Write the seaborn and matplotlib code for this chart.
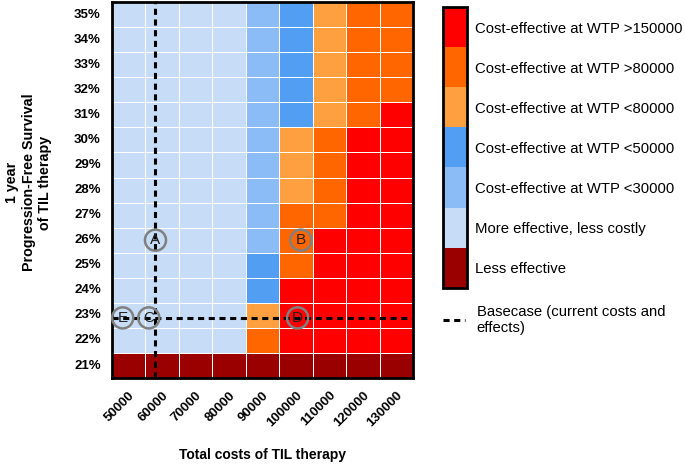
import numpy as np
import pandas as pd
import matplotlib
matplotlib.use("Agg")
import matplotlib.pyplot as plt
import seaborn as sns
from matplotlib.colors import ListedColormap
from matplotlib.lines import Line2D

# ------------------------------------------------------------------------
# Data
# ------------------------------------------------------------------------
costs = [50000, 60000, 70000, 80000, 90000, 100000, 110000, 120000, 130000]
pfs = [35, 34, 33, 32, 31, 30, 29, 28, 27, 26, 25, 24, 23, 22, 21]

# 0 less effective, 1 dominant, 2 <30000, 3 <50000, 4 <80000, 5 >80000, 6 >150000
outcome = [
    [1, 1, 1, 1, 2, 3, 4, 5, 5],
    [1, 1, 1, 1, 2, 3, 4, 5, 5],
    [1, 1, 1, 1, 2, 3, 4, 5, 5],
    [1, 1, 1, 1, 2, 3, 4, 5, 5],
    [1, 1, 1, 1, 2, 3, 4, 5, 6],
    [1, 1, 1, 1, 2, 4, 5, 6, 6],
    [1, 1, 1, 1, 2, 4, 5, 6, 6],
    [1, 1, 1, 1, 2, 4, 5, 6, 6],
    [1, 1, 1, 1, 2, 5, 5, 6, 6],
    [1, 1, 1, 1, 2, 5, 6, 6, 6],
    [1, 1, 1, 1, 3, 5, 6, 6, 6],
    [1, 1, 1, 1, 3, 6, 6, 6, 6],
    [1, 1, 1, 1, 4, 6, 6, 6, 6],
    [1, 1, 1, 1, 5, 6, 6, 6, 6],
    [0, 0, 0, 0, 0, 0, 0, 0, 0],
]

category_labels = [
    "Less effective",
    "More effective, less costly",
    "Cost-effective at WTP <30000",
    "Cost-effective at WTP <50000",
    "Cost-effective at WTP <80000",
    "Cost-effective at WTP >80000",
    "Cost-effective at WTP >150000",
]
category_colors = ["#9b0000", "#c6dcf7", "#8cbcf5", "#529ef2",
                   "#ffa040", "#ff6600", "#ff0000"]

basecase_cost = 58000
basecase_pfs = 22.9

point_names = ["A", "B", "C", "D", "E"]
point_costs = [58000, 101500, 56000, 100500, 48200]
point_pfs = [26, 26, 22.9, 22.9, 22.9]

# ------------------------------------------------------------------------
# Plot
# ------------------------------------------------------------------------
sns.set_style("white")
plt.rcParams["font.family"] = ["Liberation Sans", "DejaVu Sans"]
for key in ["text.color", "axes.labelcolor", "xtick.color", "ytick.color"]:
    plt.rcParams[key] = "black"

df = pd.DataFrame(outcome, index=[f"{p}%" for p in pfs], columns=costs)


def to_x(c):
    return (c - costs[0]) / (costs[1] - costs[0]) + 0.5


def to_y(p):
    return (pfs[0] - p) + 0.5


fig = plt.figure(figsize=(6.85, 4.65), dpi=100)
ax = fig.add_axes([0.1635, 0.187, 0.4394, 0.8086])
cax = fig.add_axes([0.6467, 0.381, 0.035, 0.604])

sns.heatmap(df, cmap=ListedColormap(category_colors), vmin=-0.5, vmax=6.5,
            linewidths=0.7, linecolor="white", ax=ax, cbar_ax=cax)

for spine in ax.spines.values():
    spine.set_visible(True)
    spine.set_linewidth(2)
    spine.set_color("black")

ax.tick_params(axis="both", length=0, pad=8)
plt.setp(ax.get_yticklabels(), rotation=0, fontsize=9.5, fontweight="bold")
plt.setp(ax.get_xticklabels(), rotation=45, ha="right", rotation_mode="anchor",
         fontsize=9.5, fontweight="bold")
ax.set_xlabel("Total costs of TIL therapy", fontsize=10, fontweight="bold",
              labelpad=14)
ax.set_ylabel("1 year\nProgression-Free Survival\nof TIL therapy",
              fontsize=10.3, fontweight="bold", labelpad=16)
ax.yaxis.label.set_y(0.52)

# basecase lines
dash = (0, (2, 1.5))
ax.axvline(to_x(basecase_cost), color="black", lw=2.2, ls=dash)
ax.axhline(to_y(basecase_pfs), color="black", lw=2.2, ls=dash)

# scenario markers
xs = [to_x(c) for c in point_costs]
ys = [to_y(p) for p in point_pfs]
ax.scatter(xs, ys, s=230, facecolors="none", edgecolors="#808080",
           linewidths=1.8, zorder=5, clip_on=False)
for name, x, y in zip(point_names, xs, ys):
    ax.text(x, y, name, ha="center", va="center", fontsize=11,
            color="#222222", zorder=6)

# colorbar
cbar = ax.collections[0].colorbar
cbar.set_ticks(range(len(category_labels)))
cbar.set_ticklabels(category_labels)
cbar.outline.set_linewidth(2)
cbar.outline.set_edgecolor("black")
cbar.ax.tick_params(direction="in", length=3, width=1.5, left=True,
                    right=True, labelsize=10.7, pad=6)

fig.legend(handles=[Line2D([0], [0], color="black", lw=2.2, ls=dash)],
           labels=["Basecase (current costs and\neffects)"],
           loc="upper left", bbox_to_anchor=(0.647, 0.345), frameon=False,
           handlelength=1.5, handletextpad=0.75, fontsize=10.7,
           borderaxespad=0, borderpad=0)

plt.savefig("out.png", dpi=100)
plt.close()
